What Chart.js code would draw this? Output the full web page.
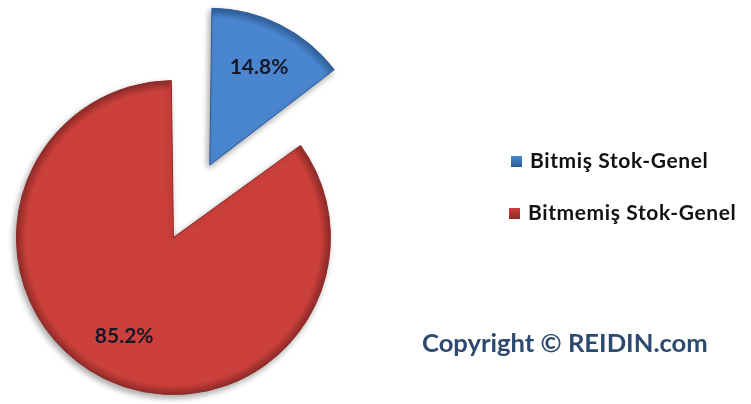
<!DOCTYPE html>
<html>
<head>
<meta charset="utf-8">
<script src="https://cdn.jsdelivr.net/npm/chart.js@4.4.1/dist/chart.umd.min.js"></script>
<style>
  html, body { margin: 0; padding: 0; background: #fff; }
  .wrap { position: relative; width: 751px; height: 404px; }
  canvas { display: block; }
  .legend { position: absolute; left: 509px; top: 0; font-family: Lato, sans-serif; font-weight: bold; font-size: 21px; letter-spacing: 0.6px; color: #111; }
  .legend div { position: absolute; white-space: nowrap; line-height: 22px; }
  .legend span.box { display: inline-block; width: 11px; height: 11px; margin-right: 8px; vertical-align: 1px; }
  .copy { position: absolute; left: 422px; top: 327px; font-family: Lato, sans-serif; font-weight: bold; font-size: 25.6px; color: #2d4a6e; white-space: nowrap; }
</style>
</head>
<body>
<div class="wrap">
  <canvas id="pie" width="751" height="404"></canvas>
  <div class="legend" id="legend"></div>
  <div class="copy">Copyright © REIDIN.com</div>
</div>
<script>
const categories = ["Bitmiş Stok-Genel", "Bitmemiş Stok-Genel"];
const shares = [14.8, 85.2];
const sliceColors = ["#4a86cf", "#cc403c"];
const edgeColors = ["#2d5c96", "#8c2a27"];

// legend
let legend = document.getElementById("legend");
let legendTops = [149, 201];
categories.forEach((c, i) => {
  legend.innerHTML += `<div style="top:${legendTops[i]}px;left:${i == 0 ? 2 : 0}px"><span class="box" style="background:linear-gradient(${sliceColors[i]}, ${edgeColors[i]})"></span>${c}</div>`;
});

function fillFor(ctx) {
  const area = ctx.chart.chartArea;
  const i = ctx.dataIndex;
  if (!area) return sliceColors[i];
  const cx = (area.left + area.right) / 2;
  const cy = (area.top + area.bottom) / 2;
  const g = ctx.chart.ctx.createRadialGradient(cx, cy, 0, cx, cy, 158);
  g.addColorStop(0, sliceColors[i]);
  g.addColorStop(0.93, sliceColors[i]);
  g.addColorStop(1, edgeColors[i]);
  return g;
}

const pieExtras = {
  id: "pieExtras",
  beforeDatasetsDraw(chart) {
    const c = chart.ctx;
    c.save();
    c.shadowColor = "rgba(0,0,0,0.35)";
    c.shadowBlur = 6;
    c.shadowOffsetX = -2;
    c.shadowOffsetY = 3;
  },
  afterDatasetsDraw(chart) {
    const c = chart.ctx;
    c.restore();
    const meta = chart.getDatasetMeta(0);
    c.save();
    c.font = "bold 21px Lato, sans-serif";
    c.fillStyle = "#16182a";
    c.textAlign = "center";
    c.textBaseline = "middle";
    meta.data.forEach((arc, i) => {
      const half = (arc.startAngle + arc.endAngle) / 2;
      const circ = arc.endAngle - arc.startAngle;
      const off = (arc.options.offset || 0) / 4;
      const fix = 1 - Math.sin(Math.min(Math.PI, circ));
      const d = off + (arc.outerRadius + off * fix) * 0.7;
      c.fillText(shares[i].toFixed(1) + "%", arc.x + Math.cos(half) * d, arc.y + Math.sin(half) * d);
    });
    c.restore();
  }
};

new Chart(document.getElementById("pie"), {
  type: "pie",
  data: {
    labels: categories,
    datasets: [
      {
        data: shares,
        backgroundColor: fillFor,
        borderColor: edgeColors,
        borderWidth: 1,
        offset: [270, 54],
        clip: false,
      },
    ],
  },
  options: {
    responsive: false,
    animation: false,
    events: [],
    radius: 143.5,
    layout: { padding: { left: 0, right: 392, top: 47, bottom: 0 } },
    plugins: {
      legend: { display: false },
      tooltip: { enabled: false },
    },
  },
  plugins: [pieExtras],
});
</script>
</body>
</html>
